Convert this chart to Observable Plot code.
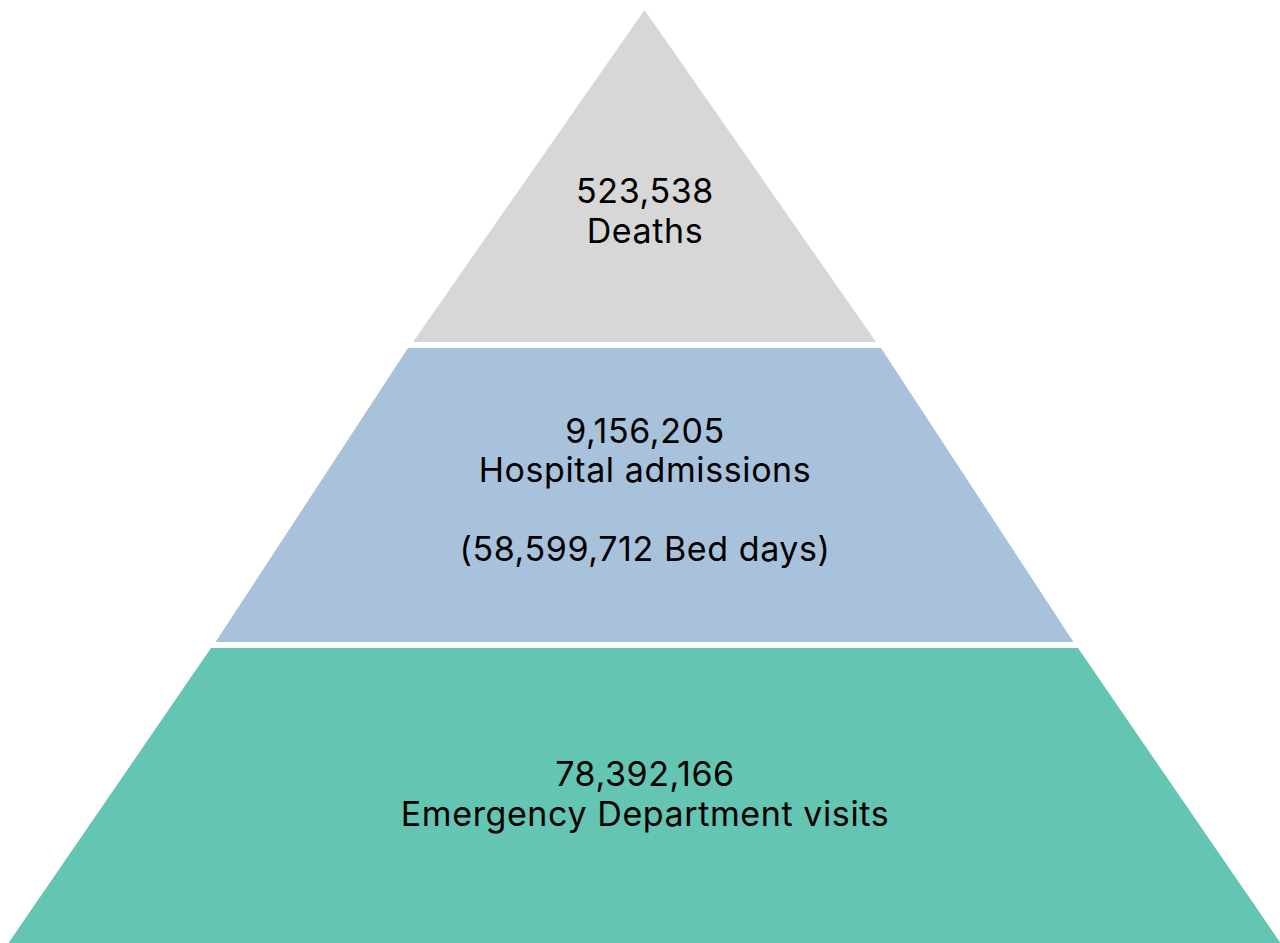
<!DOCTYPE html>
<html>
<head>
<meta charset="utf-8">
<script src="https://cdn.jsdelivr.net/npm/d3@7"></script>
<script src="https://cdn.jsdelivr.net/npm/@observablehq/plot@0.6"></script>
<style>
  html, body { margin: 0; padding: 0; background: #ffffff; }
  #chart svg { display: block; }
</style>
</head>
<body>
<div id="chart"></div>
<script>
// ---- Data (top tier first) ----
const tierLabels = ["Deaths", "Hospital admissions", "Emergency Department visits"];
const tierValues = [523538, 9156205, 78392166];
const tierNotes = ["", "(58,599,712 Bed days)", ""];
const tierColors = ["#d7d7d7", "#a9c2dc", "#63c5b2"];

// ---- Layout (pyramid geometry in unit space: y 0 = base, 1 = apex; x = half-width) ----
const layout = [
  {y0: 0.6442, y1: 1.0000, w0: 0.3640, w1: 0.0000, ty: 0.786},
  {y0: 0.3226, y1: 0.6377, w0: 0.6745, w1: 0.3719, ty: 0.487},
  {y0: 0.0000, y1: 0.3162, w0: 1.0000, w1: 0.6816, ty: 0.161}
];

const fmt = d3.format(",");
const tiers = tierLabels.map((label, i) => ({
  i, label, value: tierValues[i], note: tierNotes[i], color: tierColors[i], ...layout[i],
  text: fmt(tierValues[i]) + "\n" + label + (tierNotes[i] ? "\n\n" + tierNotes[i] : "")
}));

// area points: two per tier (bottom and top edges)
const pts = tiers.flatMap(t => [
  {tier: t.i, color: t.color, y: t.y0, x1: -t.w0, x2: t.w0},
  {tier: t.i, color: t.color, y: t.y1, x1: -t.w1, x2: t.w1}
]);

const chart = Plot.plot({
  width: 1280,
  height: 943,
  margin: 0,
  x: {domain: [-1, 1], range: [8.5, 1280.5], axis: null},
  y: {domain: [0, 1], range: [943, 10], axis: null},
  style: {fontFamily: "Inter, 'Open Sans', sans-serif", background: "#ffffff"},
  marks: [
    Plot.areaX(pts, {y: "y", x1: "x1", x2: "x2", z: "tier", fill: "color", curve: "linear"}),
    Plot.text(tiers, {
      x: () => 0, y: "ty", text: "text",
      fontSize: 34, lineHeight: 1.16, fill: "#000000",
      textAnchor: "middle", lineAnchor: "middle"
    })
  ]
});
chart.querySelectorAll("text").forEach(t => t.setAttribute("letter-spacing", "0.6"));
document.getElementById("chart").appendChild(chart);
</script>
</body>
</html>
